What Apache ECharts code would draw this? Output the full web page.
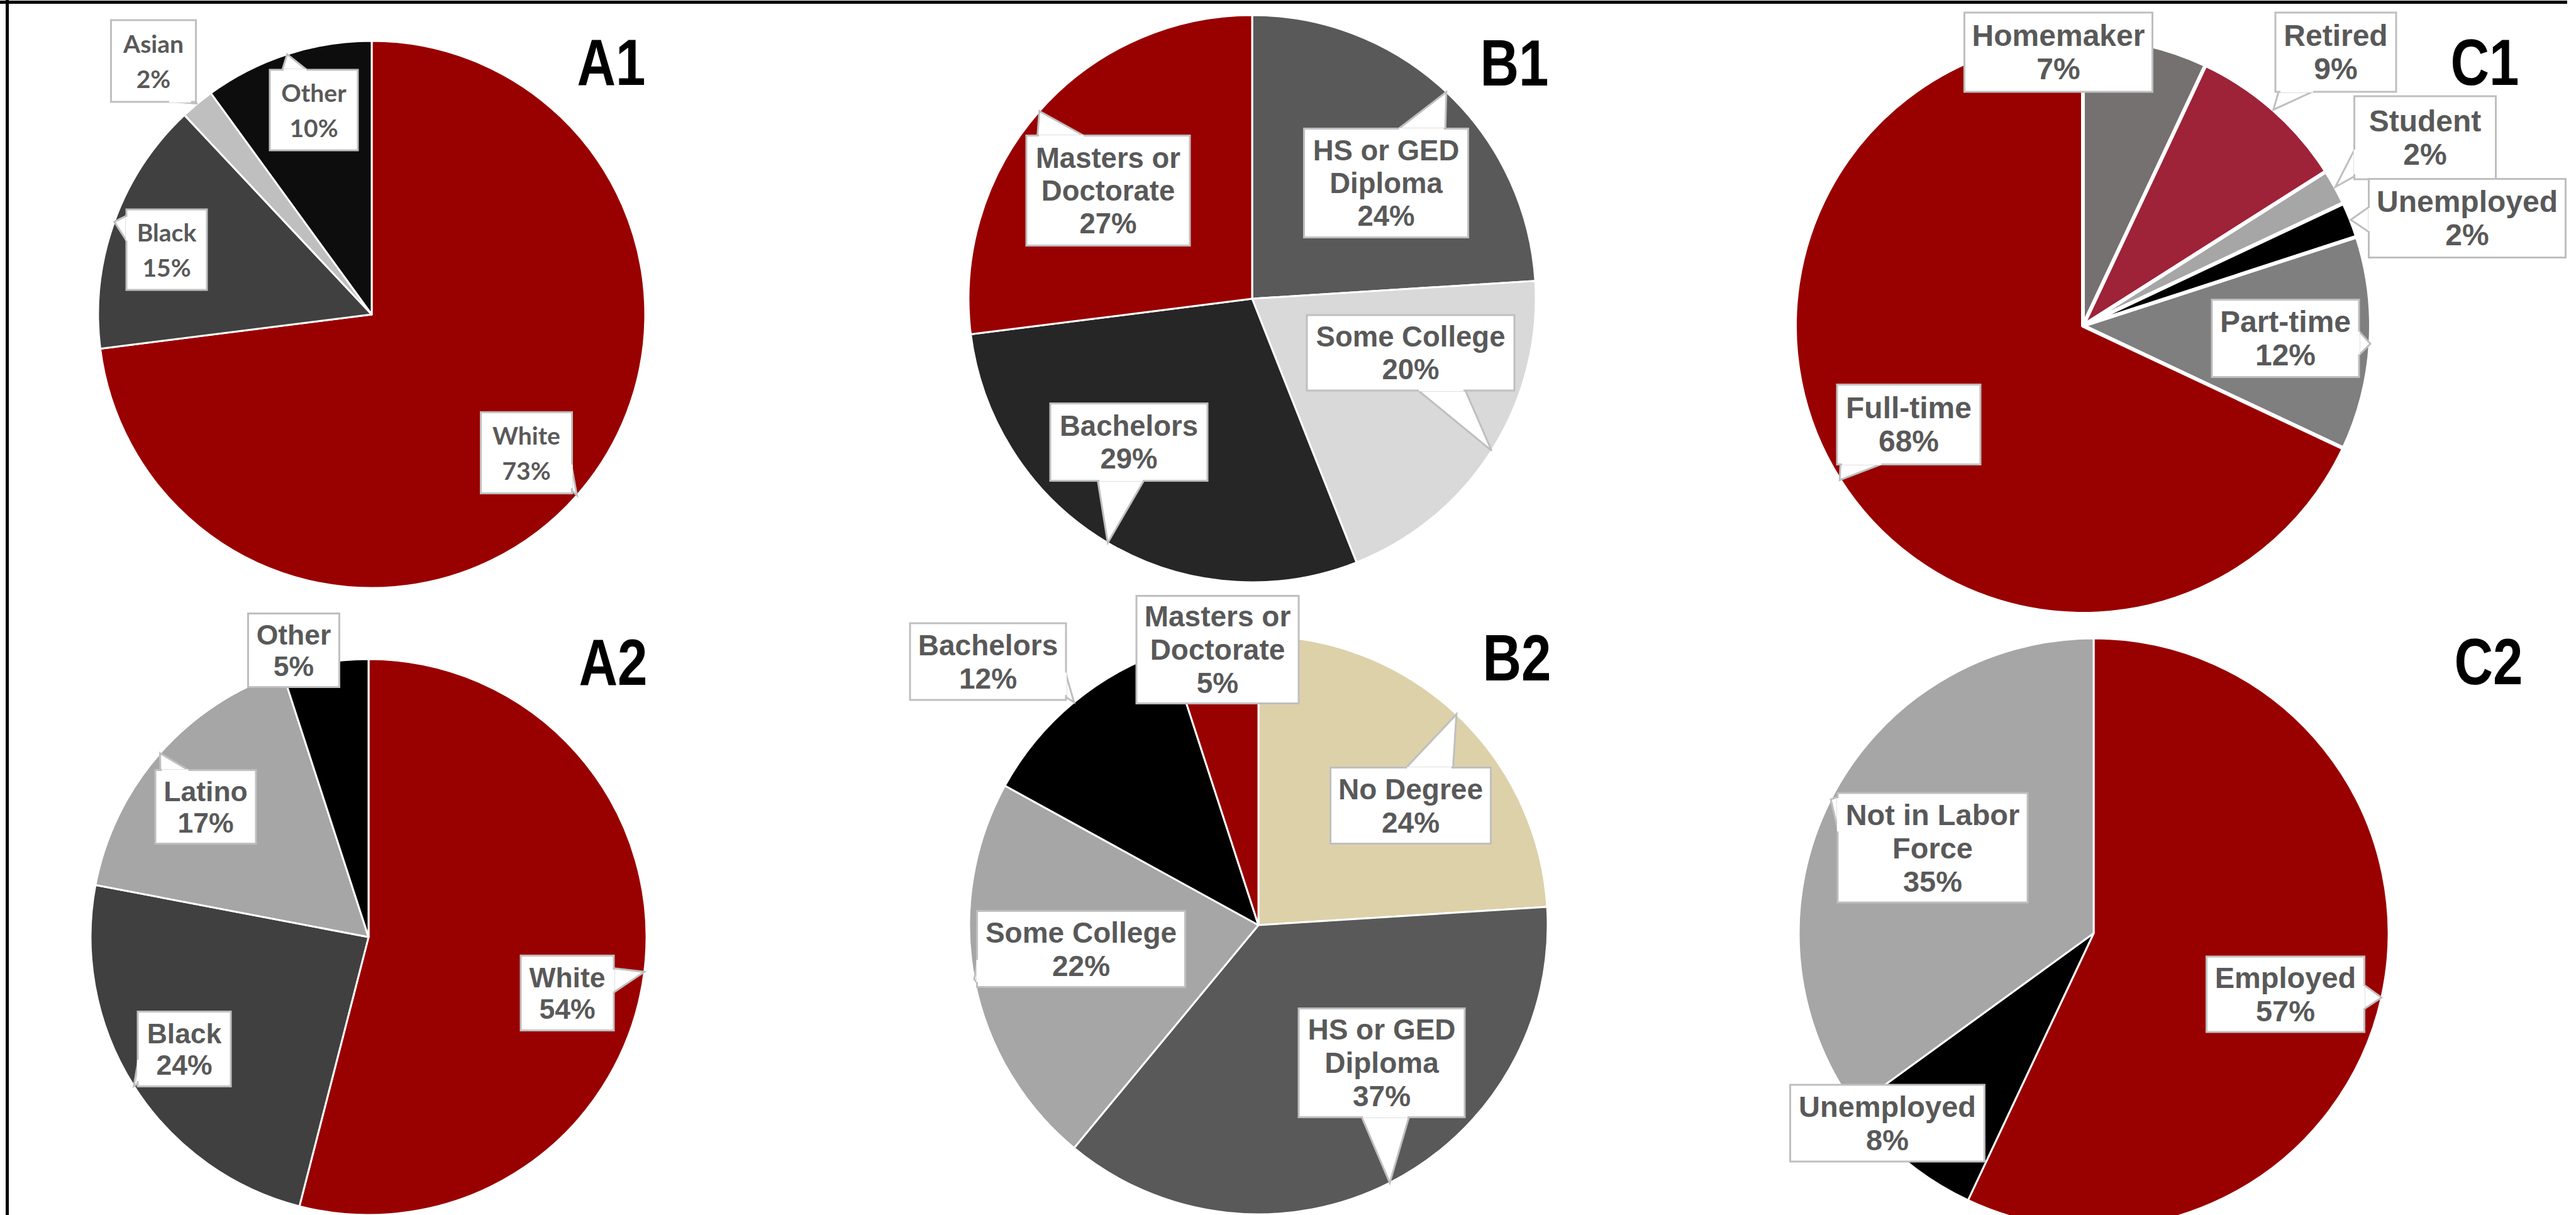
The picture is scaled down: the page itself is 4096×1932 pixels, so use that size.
<!DOCTYPE html>
<html>
<head>
<meta charset="utf-8">
<style>
html,body{margin:0;padding:0;background:#fff;overflow:hidden}
#chart{width:4096px;height:1932px}
</style>
<script src="https://cdn.jsdelivr.net/npm/echarts@6/dist/echarts.min.js"></script>
</head>
<body>
<div id="chart"></div>
<script>
// ---------------- DATA ----------------
const a1Categories = ['White', 'Black', 'Asian', 'Other'];
const a1Values = [73, 15, 2, 10];
const a2Categories = ['White', 'Black', 'Latino', 'Other'];
const a2Values = [54, 24, 17, 5];
const b1Categories = ['HS or GED Diploma', 'Some College', 'Bachelors', 'Masters or Doctorate'];
const b1Values = [24, 20, 29, 27];
const b2Categories = ['No Degree', 'HS or GED Diploma', 'Some College', 'Bachelors', 'Masters or Doctorate'];
const b2Values = [24, 37, 22, 12, 5];
const c1Categories = ['Homemaker', 'Retired', 'Student', 'Unemployed', 'Part-time', 'Full-time'];
const c1Values = [7, 9, 2, 2, 12, 68];
const c2Categories = ['Employed', 'Unemployed', 'Not in Labor Force'];
const c2Values = [57, 8, 35];
const panelTitles = ['A1', 'B1', 'C1', 'A2', 'B2', 'C2'];

// ---------------- STYLE / LAYOUT ----------------
const wrapText = {
  'Masters or Doctorate': 'Masters or\nDoctorate',
  'HS or GED Diploma': 'HS or GED\nDiploma',
  'Not in Labor Force': 'Not in Labor\nForce'
};
const ARIAL = '"Liberation Sans", Arial, sans-serif';
const BOX_BORDER = '#BFBFBF';
const panels = [
  { cats: a1Categories, vals: a1Values, colors: ['#990000', '#404040', '#BFBFBF', '#0D0D0D'],
    center: [591, 500], r: 435, border: 3, font: 'Lato, "Open Sans", sans-serif', fs: 39, lh: 56,
    boxes: [[837, 720, 142, 126], [265, 397, 125, 125], [244, 97, 132, 127], [499, 175, 137, 125]] },
  { cats: b1Categories, vals: b1Values, colors: ['#595959', '#D9D9D9', '#262626', '#990000'],
    center: [1991, 475], r: 451, border: 3, font: ARIAL, fs: 45.5, lh: 52,
    boxes: [[2204, 291, 258, 170], [2243, 561, 327, 117], [1795, 703, 247, 120], [1762, 303, 257, 172]] },
  { cats: c1Categories, vals: c1Values, colors: ['#767171', '#9E2238', '#A6A6A6', '#000000', '#7F7F7F', '#990000'],
    center: [3312, 518], r: 458, border: 6, font: ARIAL, fs: 48, lh: 53,
    boxes: [[3273, 83, 296, 123], [3714, 83, 189, 123], [3856, 219, 222, 129], [3923, 347, 310, 122], [3634, 538, 231, 120], [3035, 675, 225, 124]] },
  { cats: a2Categories, vals: a2Values, colors: ['#990000', '#404040', '#A6A6A6', '#000000'],
    center: [586, 1490], r: 442, border: 3, font: ARIAL, fs: 44.5, lh: 50,
    boxes: [[902, 1579, 145, 116], [293, 1668, 145, 116], [327, 1283, 157, 114], [467, 1034, 142, 114]] },
  { cats: b2Categories, vals: b2Values, colors: ['#DDD1AA', '#595959', '#A6A6A6', '#000000', '#990000'],
    center: [2001, 1471], r: 460, border: 3, font: ARIAL, fs: 46, lh: 53,
    boxes: [[2243, 1281, 252, 118], [2197, 1690, 261, 170], [1719, 1509, 328, 118], [1571, 1052, 245, 119], [1936, 1033, 255, 168]] },
  { cats: c2Categories, vals: c2Values, colors: ['#990000', '#000000', '#A6A6A6'],
    center: [3329, 1484], r: 469, border: 3, font: ARIAL, fs: 47, lh: 53,
    boxes: [[3634, 1581, 248, 117], [3001, 1786, 306, 119], [3073, 1348, 299, 171]] }
];
const titlePos = [[972, 99], [2408, 100], [3951, 99], [975, 1053], [2412, 1046], [3957, 1052]];

function labelText(name, value) {
  return (wrapText[name] || name) + '\n' + value + '%';
}

// Callout tail (speech-bubble wedge) from the label box to the slice's outer edge at its mid-angle.
function tailGeometry(pi, i) {
  const p = panels[pi];
  const total = p.vals.reduce(function (s, v) { return s + v; }, 0);
  let cum = 0;
  for (let k = 0; k < i; k++) cum += p.vals[k];
  const ang = (cum + p.vals[i] / 2) / total * 2 * Math.PI;
  const T = [p.center[0] + p.r * Math.sin(ang), p.center[1] - p.r * Math.cos(ang)];
  const b = p.boxes[i];
  const hw = b[2] / 2, hh = b[3] / 2;
  const dx = T[0] - b[0], dy = T[1] - b[1];
  if (Math.abs(dx) <= hw && Math.abs(dy) <= hh) return null; // tip hidden under box
  let A, B;
  if (Math.abs(dx) * hh > Math.abs(dy) * hw) {
    const ex = b[0] + (dx > 0 ? hw : -hw);
    const half = Math.min(b[3] * 0.17, 30);
    let py = b[1] + dy * (hw / Math.abs(dx));
    py = Math.max(b[1] - hh + half + 4, Math.min(b[1] + hh - half - 4, py));
    A = [ex, py - half]; B = [ex, py + half];
  } else {
    const ey = b[1] + (dy > 0 ? hh : -hh);
    const half = Math.min(b[2] * 0.15, 38);
    let px = b[0] + dx * (hh / Math.abs(dy));
    px = Math.max(b[0] - hw + half + 4, Math.min(b[0] + hw - half - 4, px));
    A = [px - half, ey]; B = [px + half, ey];
  }
  return { A: A, B: B, T: T };
}

const series = panels.map(function (p) {
  return {
    type: 'pie',
    center: p.center,
    radius: p.r,
    startAngle: 90,
    clockwise: true,
    avoidLabelOverlap: false,
    minShowLabelAngle: 0,
    animation: false,
    silent: true,
    z: 2,
    itemStyle: { borderColor: '#ffffff', borderWidth: p.border },
    label: {
      show: true,
      position: 'outside',
      color: '#595959',
      fontFamily: p.font,
      fontWeight: 'bold',
      fontSize: p.fs,
      lineHeight: p.lh,
      align: 'center',
      backgroundColor: '#ffffff',
      borderColor: BOX_BORDER,
      borderWidth: 3,
      formatter: function (params) { return labelText(params.name, params.value); }
    },
    labelLine: { show: false },
    labelLayout: function (params) {
      const b = p.boxes[params.dataIndex];
      return { x: b[0], y: b[1], align: 'center', verticalAlign: 'middle' };
    },
    emphasis: { disabled: true },
    data: p.cats.map(function (c, i) {
      const b = p.boxes[i];
      const n = labelText(c, p.vals[i]).split('\n').length;
      const padV = Math.max(0, (b[3] - n * p.lh) / 2);
      return {
        name: c,
        value: p.vals[i],
        itemStyle: { color: p.colors[i] },
        label: { width: b[2] - 20, padding: [padV, 10, padV, 10] }
      };
    })
  };
});

const tailItems = [];
panels.forEach(function (p, pi) { p.cats.forEach(function (c, i) { tailItems.push([pi, i]); }); });
series.push({
  type: 'custom',
  coordinateSystem: 'none',
  silent: true,
  animation: false,
  z: 2,
  data: tailItems,
  renderItem: function (params, api) {
    const g = tailGeometry(api.value(0), api.value(1));
    if (!g) return { type: 'group', children: [] };
    const ux = (g.B[0] - g.A[0]), uy = (g.B[1] - g.A[1]);
    const L = Math.sqrt(ux * ux + uy * uy) || 1;
    const e = 2.5 / L;
    return {
      type: 'group',
      children: [
        { type: 'polygon', z2: 3, shape: { points: [g.A, g.T, g.B] },
          style: { fill: '#ffffff', stroke: BOX_BORDER, lineWidth: 3, lineJoin: 'miter' } },
        { type: 'line', z2: 6,
          shape: { x1: g.A[0] + ux * e, y1: g.A[1] + uy * e, x2: g.B[0] - ux * e, y2: g.B[1] - uy * e },
          style: { stroke: '#ffffff', lineWidth: 5 } }
      ]
    };
  }
});

const graphics = [
  { type: 'rect', silent: true, shape: { x: 0, y: 1, width: 4082, height: 5 }, style: { fill: '#000' } },
  { type: 'rect', silent: true, shape: { x: 9, y: 0, width: 5, height: 1932 }, style: { fill: '#000' } }
];
panelTitles.forEach(function (t, i) {
  graphics.push({
    type: 'text', silent: true, x: titlePos[i][0], y: titlePos[i][1], scaleX: 0.82, z: 10,
    style: { text: t, fontSize: 104, fontWeight: 'bold', fontFamily: ARIAL, fill: '#000', align: 'center', verticalAlign: 'middle' }
  });
});

const chart = echarts.init(document.getElementById('chart'), null, { renderer: 'svg', width: 4096, height: 1932 });
chart.setOption({
  backgroundColor: '#ffffff',
  animation: false,
  graphic: graphics,
  series: series
});
</script>
</body>
</html>
